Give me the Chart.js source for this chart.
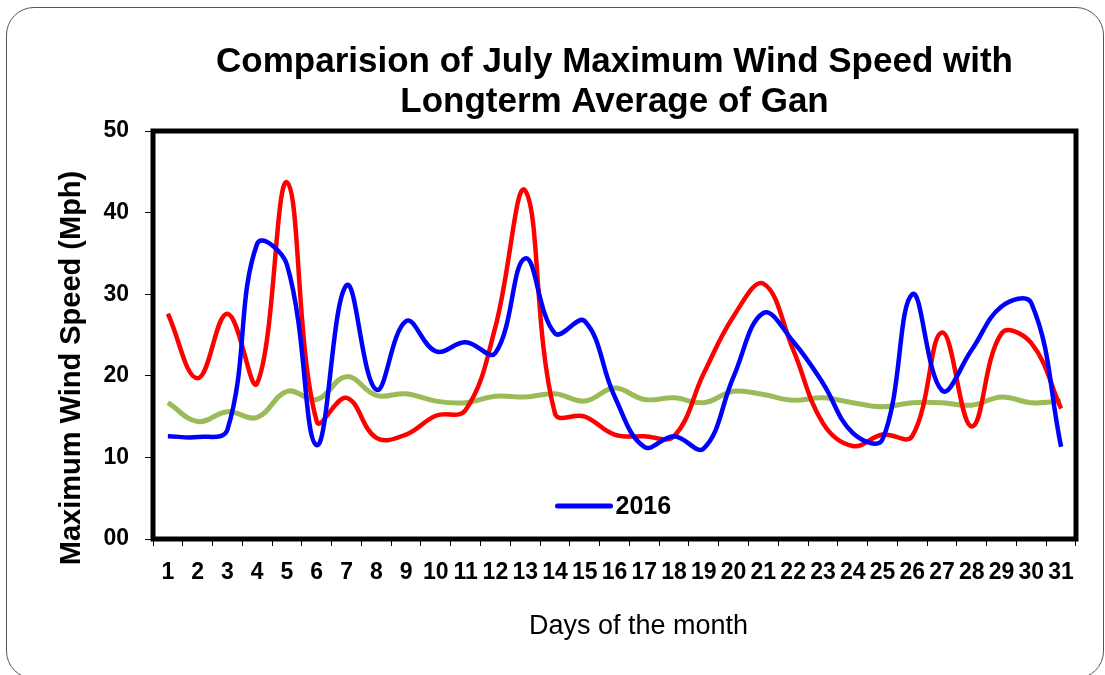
<!DOCTYPE html>
<html>
<head>
<meta charset="utf-8">
<script src="https://cdn.jsdelivr.net/npm/chart.js@4/dist/chart.umd.min.js"></script>
<style>
  html, body { margin: 0; padding: 0; background: #fff; overflow: hidden; }
  #wrap { position: relative; width: 1105px; height: 675px; }
  #frame {
    position: absolute; left: 6px; top: 7px; width: 1098px; height: 672px;
    border: 1.5px solid #555; border-radius: 28px; box-sizing: border-box;
    pointer-events: none;
  }
  canvas { position: absolute; left: 0; top: 0; }
</style>
</head>
<body>
<div id="wrap">
  <div id="frame"></div>
  <canvas id="wind-chart" width="1105" height="675"></canvas>
</div>
<script>
// Days of July
const days = [
  "1", "2", "3", "4", "5", "6", "7", "8", "9", "10",
  "11", "12", "13", "14", "15", "16", "17", "18", "19", "20",
  "21", "22", "23", "24", "25", "26", "27", "28", "29", "30", "31",
];

// Maximum wind speed (Mph)
const speed2016 = [
  12.6, 12.5, 13.4, 36.2, 33.6, 11.5, 31.1, 18.3, 26.7, 23.0,
  24.1, 22.8, 34.4, 25.2, 26.7, 17.5, 11.3, 12.6, 11.1, 19.9,
  27.7, 24.2, 19.1, 13.0, 12.2, 30.0, 18.2, 23.2, 28.5, 28.9, 11.3,
];
const speed2015 = [
  27.6, 19.7, 27.6, 19.1, 43.7, 14.4, 17.3, 12.4, 12.8, 15.1,
  15.8, 26.0, 42.7, 15.4, 15.0, 12.8, 12.6, 12.6, 20.3, 27.3,
  31.3, 23.2, 14.2, 11.4, 12.8, 12.6, 25.3, 13.8, 25.2, 24.0, 16.0,
];
const longtermAverage = [
  16.7, 14.4, 15.6, 14.9, 18.1, 17.1, 19.9, 17.6, 17.8, 16.9,
  16.7, 17.5, 17.4, 17.8, 16.9, 18.5, 17.1, 17.3, 16.7, 18.1,
  17.7, 17.0, 17.3, 16.7, 16.2, 16.7, 16.7, 16.4, 17.4, 16.7, 16.9,
];

const yTicks = [0, 10, 20, 30, 40, 50];

const FONT = "'Liberation Sans', Arial, sans-serif";

// Black frame around the plot, axis titles and the single "2016" legend entry
const framePlugin = {
  id: "plotFrame",
  afterDatasetsDraw(chart) {
    const { ctx, chartArea } = chart;
    ctx.save();
    ctx.strokeStyle = "#000";
    ctx.lineWidth = 5;
    ctx.strokeRect(
      chartArea.left,
      chartArea.top,
      chartArea.right - chartArea.left,
      chartArea.bottom - chartArea.top
    );

    const mid = (chartArea.left + chartArea.right) / 2;

    // legend
    const ly = chartArea.bottom - 33;
    ctx.strokeStyle = "#0000ff";
    ctx.lineWidth = 5;
    ctx.lineCap = "round";
    ctx.beginPath();
    ctx.moveTo(mid - 57, ly);
    ctx.lineTo(mid - 4, ly);
    ctx.stroke();
    ctx.fillStyle = "#000";
    ctx.font = "bold 25px " + FONT;
    ctx.textAlign = "left";
    ctx.textBaseline = "middle";
    ctx.fillText("2016", mid + 1, ly + 1);

    // x axis title
    ctx.font = "27px " + FONT;
    ctx.textAlign = "center";
    ctx.fillText("Days of the month", mid + 24, 627);

    // y axis title
    ctx.translate(72, 368);
    ctx.rotate(-Math.PI / 2);
    ctx.font = "bold 29px " + FONT;
    ctx.fillText("Maximum Wind Speed (Mph)", 0, 0);
    ctx.restore();
  },
};

const ctx = document.getElementById("wind-chart").getContext("2d");

new Chart(ctx, {
  type: "line",
  data: {
    labels: days,
    datasets: [
      {
        label: "2016",
        data: speed2016,
        borderColor: "#0000ff",
        borderWidth: 4.5,
        pointRadius: 0,
        tension: 0.4,
      },
      {
        label: "2015",
        data: speed2015,
        borderColor: "#ff0000",
        borderWidth: 4.5,
        pointRadius: 0,
        tension: 0.4,
      },
      {
        label: "Longterm Average",
        data: longtermAverage,
        borderColor: "#9bbb59",
        borderWidth: 5,
        pointRadius: 0,
        tension: 0.4,
      },
    ],
  },
  options: {
    responsive: false,
    animation: false,
    devicePixelRatio: 1,
    layout: {
      padding: { left: 54, right: 29, top: 0, bottom: 34 },
    },
    plugins: {
      legend: { display: false },
      tooltip: { enabled: false },
      title: {
        display: true,
        fullSize: false,
        text: [
          "Comparision of July Maximum Wind Speed with",
          "Longterm Average of Gan",
        ],
        color: "#000",
        font: { family: FONT, size: 35, weight: "bold", lineHeight: 1.143 },
        padding: { top: 42, bottom: 9 },
      },
    },
    scales: {
      x: {
        offset: true,
        grid: {
          offset: true,
          drawOnChartArea: false,
          drawTicks: true,
          tickLength: 7,
          color: "#000",
        },
        border: { display: false },
        ticks: {
          autoSkip: false,
          maxRotation: 0,
          padding: 13,
          color: "#000",
          font: { family: FONT, size: 23, weight: "bold" },
        },
        afterFit(scale) {
          scale.height = 102;
        },
      },
      y: {
        min: yTicks[0],
        max: yTicks[yTicks.length - 1],
        afterBuildTicks(scale) {
          scale.ticks = yTicks.map((v) => ({ value: v }));
        },
        grid: {
          drawOnChartArea: false,
          drawTicks: true,
          tickLength: 8,
          color: "#000",
        },
        border: { display: false },
        ticks: {
          padding: 16,
          color: "#000",
          font: { family: FONT, size: 23, weight: "bold" },
          callback: (v) => String(v).padStart(2, "0"),
        },
        afterFit(scale) {
          scale.width = 99;
        },
      },
    },
  },
  plugins: [framePlugin],
});
</script>
</body>
</html>
